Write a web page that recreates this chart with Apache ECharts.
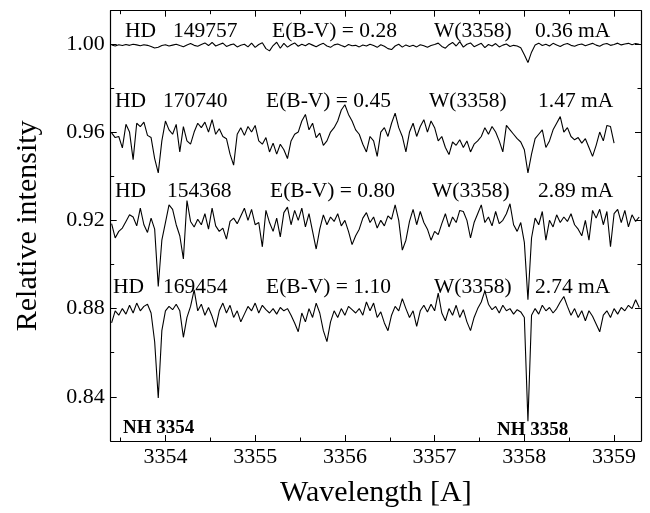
<!DOCTYPE html>
<html>
<head>
<meta charset="utf-8">
<script src="https://cdn.jsdelivr.net/npm/echarts@6/dist/echarts.min.js"></script>
<style>
html,body{margin:0;padding:0;background:#fff;}
#chart{width:650px;height:513px;}
</style>
</head>
<body>
<div id="chart"></div>
<script>
// ---- sampling grid (wavelength, Angstrom) ----
const lambdaStart = 3353.40;
const lambdaStep = 0.04;

// ---- tick values ----
const xTicks = [3354, 3355, 3356, 3357, 3358, 3359];
const xMinorTicks = [3353.5, 3354.5, 3355.5, 3356.5, 3357.5, 3358.5];
const yTicks = [0.84, 0.88, 0.92, 0.96, 1.00];
const yMinorTicks = [0.86, 0.90, 0.94, 0.98];

// ---- spectra (relative intensity) ----
const hd149757 = [
0.9995,0.9990,0.9996,0.9992,0.9997,0.9993,0.9998,0.9995,0.9991,0.9996,0.9993,
0.9988,0.9981,0.9984,0.9992,
0.9996,0.9990,0.9994,0.9998,0.9992,0.9987,0.9995,1.0001,0.9993,0.9989,0.9997,
1.0004,0.9992,1.0006,0.9990,0.9997,1.0003,0.9988,0.9995,0.9999,0.9986,0.9993,
0.9998,0.9986,1.0003,0.9984,0.9997,1.0005,0.9978,0.9968,0.9992,1.0007,0.9980,1.0002,0.9985,0.9996,
1.0004,0.9989,0.9998,0.9991,1.0001,0.9994,0.9987,0.9996,1.0002,0.9990,0.9984,0.9995,0.9999,0.9992,0.9986,0.9997,0.9991,
0.9993,0.9986,0.9995,0.9990,0.9998,0.9992,0.9984,0.9996,0.9989,0.9978,0.9974,0.9990,0.9998,
0.9985,0.9995,0.9988,0.9993,0.9986,0.9996,0.9991,0.9984,0.9992,0.9997,1.0003,0.9988,0.9980,0.9996,1.0006,0.9990,1.0010,0.9985,0.9998,1.0004,
0.9987,0.9995,1.0002,0.9983,0.9997,0.9990,1.0001,0.9986,0.9994,0.9999,0.9988,0.9993,0.9990,
0.9982,0.9950,0.9915,0.9962,0.9995,
1.0003,0.9992,0.9998,0.9990,1.0002,0.9995,0.9988,0.9997,1.0001,0.9993,0.9989,0.9996,0.9999,0.9991,0.9997,
1.0002,0.9994,0.9989,0.9998,1.0001,0.9993,0.9997,1.0003,0.9995,0.9999,1.0002,0.9996,1.0001,0.9998
];

const hd170740 = [
0.9596,0.9575,0.9580,0.9528,0.9635,0.9600,0.9475,0.9640,0.9625,0.9645,
0.9585,0.9575,0.9480,0.9415,0.9560,0.9650,0.9610,0.9590,0.9635,0.9510,
0.9625,0.9560,0.9545,0.9600,0.9640,0.9620,0.9645,0.9600,0.9656,0.9590,
0.9615,0.9580,0.9570,0.9500,0.9450,0.9590,0.9620,0.9585,0.9625,0.9600,
0.9630,0.9560,0.9545,0.9575,0.9510,0.9550,0.9500,0.9545,0.9520,0.9480,
0.9560,0.9590,0.9600,0.9650,0.9680,0.9610,0.9640,0.9575,0.9595,0.9540,
0.9560,0.9600,0.9620,0.9650,0.9700,0.9724,0.9680,0.9650,0.9610,0.9590,
0.9545,0.9510,0.9580,0.9560,0.9490,0.9600,0.9620,0.9580,0.9640,0.9686,
0.9620,0.9580,0.9510,0.9600,0.9640,0.9580,0.9625,0.9656,0.9600,0.9650,
0.9620,0.9560,0.9580,0.9530,0.9498,0.9555,0.9540,0.9565,0.9530,0.9560,
0.9510,0.9545,0.9560,0.9580,0.9620,0.9590,0.9625,0.9600,0.9560,0.9510,
0.9630,0.9610,0.9590,0.9570,0.9555,0.9520,0.9415,0.9500,0.9570,0.9590,
0.9610,0.9530,0.9560,0.9610,0.9640,0.9670,0.9600,0.9620,0.9580,0.9565,
0.9575,0.9550,0.9570,0.9530,0.9490,0.9540,0.9600,0.9560,0.9630,0.9625,
0.9550
];

const hd154368 = [
0.9185,0.9120,0.9150,0.9165,0.9195,0.9225,0.9215,0.9175,0.9255,0.9180,
0.9145,0.9210,0.9160,0.8900,0.9110,0.9190,0.9270,0.9250,0.9180,0.9130,
0.9025,0.9290,0.9195,0.9170,0.9205,0.9180,0.9230,0.9160,0.9255,0.9175,
0.9150,0.9165,0.9115,0.9195,0.9210,0.9185,0.9220,0.9255,0.9200,0.9250,
0.9180,0.9190,0.9080,0.9245,0.9190,0.9150,0.9210,0.9125,0.9235,0.9260,
0.9180,0.9245,0.9200,0.9255,0.9170,0.9230,0.9150,0.9070,0.9160,0.9225,
0.9180,0.9215,0.9195,0.9230,0.9175,0.9200,0.9150,0.9090,0.9130,0.9160,
0.9210,0.9235,0.9190,0.9215,0.9165,0.9200,0.9175,0.9220,0.9205,0.9270,
0.9200,0.9065,0.9110,0.9195,0.9250,0.9180,0.9240,0.9190,0.9160,0.9110,
0.9150,0.9135,0.9185,0.9230,0.9170,0.9215,0.9190,0.9245,0.9240,0.9200,
0.9120,0.9190,0.9230,0.9270,0.9190,0.9215,0.9175,0.9240,0.9185,0.9200,
0.9230,0.9275,0.9180,0.9150,0.9190,0.9100,0.8840,0.9120,0.9210,0.9180,
0.9240,0.9110,0.9200,0.9170,0.9225,0.9190,0.9215,0.9195,0.9230,0.9180,
0.9160,0.9130,0.9200,0.9110,0.9245,0.9210,0.9250,0.9180,0.9240,0.9080,
0.9230,0.9250,0.9190,0.9245,0.9170,0.9225,0.9195,0.9215
];

const hd169454 = [
0.8735,0.8790,0.8770,0.8800,0.8775,0.8815,0.8780,0.8825,0.8790,0.8810,
0.8820,0.8780,0.8650,0.8395,0.8700,0.8790,0.8810,0.8795,0.8820,0.8790,
0.8670,0.8760,0.8810,0.8885,0.8790,0.8820,0.8770,0.8805,0.8765,0.8715,
0.8790,0.8825,0.8780,0.8815,0.8760,0.8790,0.8740,0.8775,0.8810,0.8790,
0.8825,0.8780,0.8815,0.8795,0.8780,0.8800,0.8775,0.8805,0.8790,0.8800,
0.8770,0.8735,0.8695,0.8780,0.8740,0.8800,0.8760,0.8825,0.8780,0.8700,
0.8650,0.8740,0.8790,0.8760,0.8800,0.8770,0.8810,0.8795,0.8780,0.8800,
0.8770,0.8830,0.8790,0.8825,0.8760,0.8785,0.8735,0.8700,0.8770,0.8810,
0.8790,0.8845,0.8800,0.8760,0.8790,0.8720,0.8790,0.8815,0.8785,0.8820,
0.8790,0.8870,0.8780,0.8745,0.8800,0.8770,0.8815,0.8760,0.8795,0.8740,
0.8700,0.8760,0.8800,0.8830,0.8880,0.8820,0.8795,0.8810,0.8780,0.8815,
0.8790,0.8800,0.8775,0.8795,0.8785,0.8760,0.8290,0.8770,0.8800,0.8775,
0.8815,0.8790,0.8805,0.8780,0.8800,0.8830,0.8855,0.8810,0.8770,0.8800,
0.8760,0.8790,0.8745,0.8790,0.8765,0.8730,0.8695,0.8770,0.8790,0.8760,
0.8800,0.8775,0.8805,0.8790,0.8815,0.8800,0.8840,0.8805
];

// ---- annotation texts ----
const starRows = [
  ['HD', '149757', 'E(B-V) = 0.28', 'W(3358)', '0.36 mA'],
  ['HD', '170740', 'E(B-V) = 0.45', 'W(3358)', '1.47 mA'],
  ['HD', '154368', 'E(B-V) = 0.80', 'W(3358)', '2.89 mA'],
  ['HD', '169454', 'E(B-V) = 1.10', 'W(3358)', '2.74 mA']
];
const lineLabels = ['NH 3354', 'NH 3358'];

// ---- layout (pixels) ----
const rowLayout = [
  {y: 31.7,  xs: [125, 173, 272, 434, 535]},
  {y: 101.7, xs: [115, 163, 266, 429, 538]},
  {y: 191.7, xs: [115, 167, 270, 432, 538]},
  {y: 287,   xs: [113, 163, 266, 434, 535]}
];
const lineLabelLayout = [{x: 123, y: 428}, {x: 497, y: 430}];

const FONT = '"Liberation Serif","Times New Roman",Times,serif';

function toPairs(arr) {
  return arr.map((v, i) => [+(lambdaStart + i * lambdaStep).toFixed(2), v]);
}

const graphics = [];
starRows.forEach((row, r) => {
  row.forEach((t, k) => {
    graphics.push({
      type: 'text', x: rowLayout[r].xs[k], y: rowLayout[r].y, z: 100,
      style: {text: t, fill: '#000', fontSize: 21.5, fontFamily: FONT,
              align: 'left', verticalAlign: 'middle'}
    });
  });
});
lineLabels.forEach((t, k) => {
  graphics.push({
    type: 'text', x: lineLabelLayout[k].x, y: lineLabelLayout[k].y, z: 100,
    style: {text: t, fill: '#000', fontSize: 19, fontWeight: 'bold', fontFamily: FONT,
            align: 'left', verticalAlign: 'middle'}
  });
});

const XMIN = 3353.39, XMAX = 3359.30, YMIN = 0.82, YMAX = 1.015;
const lineStyleAxis = {color: '#000', width: 1.2};

function xAx(pos, vals, len, showLine, showLabel, extra) {
  return Object.assign({
    type: 'value', min: XMIN, max: XMAX, position: pos,
    axisLine: {show: showLine, onZero: false, lineStyle: lineStyleAxis},
    axisTick: {show: true, inside: true, length: len, customValues: vals, lineStyle: {color: '#000', width: 1}},
    axisLabel: showLabel ? {show: true, customValues: vals, color: '#000', fontSize: 22, fontFamily: FONT, margin: 5,
                            formatter: v => String(Math.round(v))} : {show: false},
    splitLine: {show: false}
  }, extra || {});
}
function yAx(pos, vals, len, showLine, showLabel, extra) {
  return Object.assign({
    type: 'value', min: YMIN, max: YMAX, position: pos,
    axisLine: {show: showLine, onZero: false, lineStyle: lineStyleAxis},
    axisTick: {show: true, inside: true, length: len, customValues: vals, lineStyle: {color: '#000', width: 1}},
    axisLabel: showLabel ? {show: true, customValues: vals, color: '#000', fontSize: 22, fontFamily: FONT, margin: 6,
                            formatter: v => v.toFixed(2)} : {show: false},
    splitLine: {show: false}
  }, extra || {});
}

const chart = echarts.init(document.getElementById('chart'), null, {renderer: 'canvas'});
chart.setOption({
  animation: false,
  backgroundColor: '#fff',
  grid: {left: 110.7, right: 9, top: 10.7, bottom: 71.3, containLabel: false},
  xAxis: [
    xAx('bottom', xTicks, 6, true, true, {
      name: 'Wavelength [A]', nameLocation: 'middle', nameGap: 37,
      nameTextStyle: {color: '#000', fontSize: 30, fontFamily: FONT}
    }),
    xAx('bottom', xMinorTicks, 3.5, false, false),
    xAx('top', xTicks, 6, true, false),
    xAx('top', xMinorTicks, 3.5, false, false)
  ],
  yAxis: [
    yAx('left', yTicks, 6, true, true, {
      name: 'Relative intensity', nameLocation: 'middle', nameGap: 68,
      nameTextStyle: {color: '#000', fontSize: 30, fontFamily: FONT}
    }),
    yAx('left', yMinorTicks, 3.5, false, false),
    yAx('right', yTicks, 6, true, false),
    yAx('right', yMinorTicks, 3.5, false, false)
  ],
  series: [hd149757, hd170740, hd154368, hd169454].map((arr, k) => ({
    type: 'line', name: ['HD 149757', 'HD 170740', 'HD 154368', 'HD 169454'][k],
    xAxisIndex: 0, yAxisIndex: 0,
    data: toPairs(arr), showSymbol: false, symbol: 'none',
    lineStyle: {color: '#000', width: 1.1}, clip: true, z: 5
  })),
  graphic: graphics
});
</script>
</body>
</html>
